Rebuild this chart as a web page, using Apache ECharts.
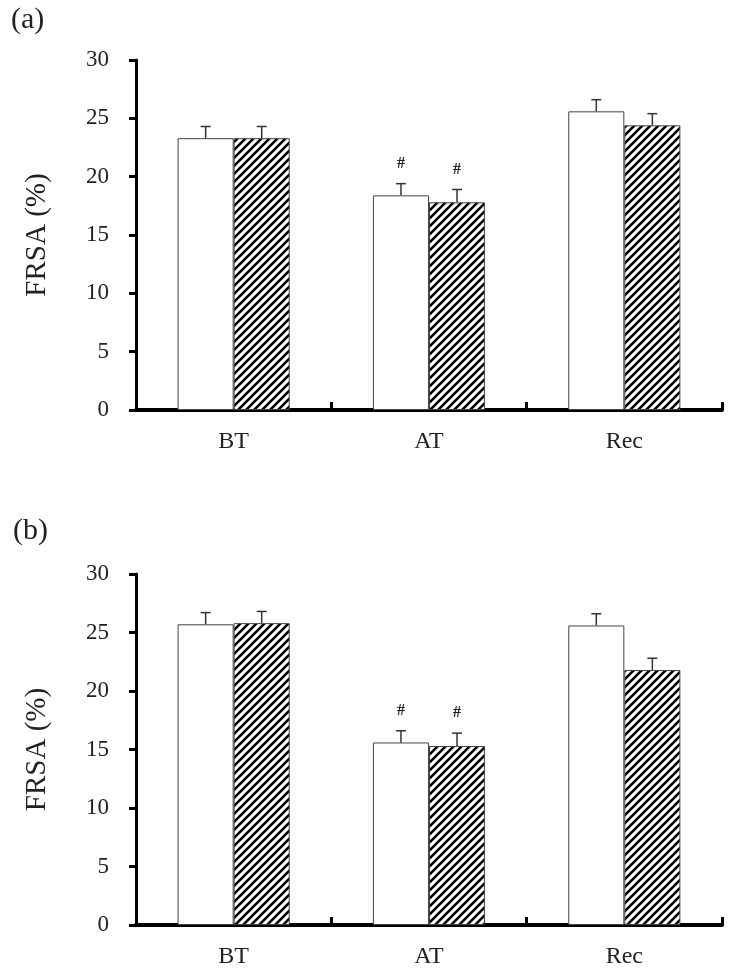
<!DOCTYPE html>
<html>
<head>
<meta charset="utf-8">
<script src="https://cdn.jsdelivr.net/npm/echarts@6/dist/echarts.min.js"></script>
<style>html,body{margin:0;padding:0;background:#fff;}#c{width:734px;height:970px;}</style>
</head>
<body>
<div id="c"></div>
<script>
// ---- data ----
const categories = ['BT', 'AT', 'Rec'];
const yTicks = [0, 5, 10, 15, 20, 25, 30];
// panel (a)
const aOpen = [23.3, 18.4, 25.6];
const aOpenErr = [1.0, 1.0, 1.0];
const aHatch = [23.3, 17.8, 24.4];
const aHatchErr = [1.0, 1.1, 1.0];
const aOpenSig = ['', '#', ''];
const aHatchSig = ['', '#', ''];
// panel (b)
const bOpen = [25.7, 15.6, 25.6];
const bOpenErr = [1.0, 1.0, 1.0];
const bHatch = [25.8, 15.3, 21.8];
const bHatchErr = [1.0, 1.1, 1.0];
const bOpenSig = ['', '#', ''];
const bHatchSig = ['', '#', ''];

const FONT = "'Liberation Serif', 'Times New Roman', serif";
const BAR_FRAC = 0.287;

// hatch pattern
const pc = document.createElement('canvas');
pc.width = 8; pc.height = 8;
const g = pc.getContext('2d');
g.fillStyle = '#fff'; g.fillRect(0, 0, 8, 8);
g.strokeStyle = '#000'; g.lineWidth = 2.6;
g.beginPath();
g.moveTo(-2, 10); g.lineTo(10, -2);
g.moveTo(-2, 2); g.lineTo(2, -2);
g.moveTo(6, 10); g.lineTo(10, 6);
g.stroke();

function errRender(side) {
  return function (params, api) {
    const idx = api.value(0), v = api.value(1), e = api.value(2);
    const base = api.coord([idx, v]);
    const top = api.coord([idx, v + e]);
    const bw = api.size([1, 0])[0] * BAR_FRAC;
    const x = base[0] + side * 0.5 * bw;
    return { type: 'group', children: [
      { type: 'line', shape: { x1: x, y1: base[1], x2: x, y2: top[1] }, style: { stroke: '#333', lineWidth: 1.5 } },
      { type: 'line', shape: { x1: x - 5, y1: top[1], x2: x + 5, y2: top[1] }, style: { stroke: '#333', lineWidth: 1.5 } }
    ] };
  };
}
function sigRender(side) {
  return function (params, api) {
    const idx = api.value(0), v = api.value(1), e = api.value(2);
    const top = api.coord([idx, v + e]);
    const base = api.coord([idx, v]);
    const bw = api.size([1, 0])[0] * BAR_FRAC;
    const x = base[0] + side * 0.5 * bw;
    return { type: 'text', style: { text: '#', x: x, y: top[1] - 12, align: 'center', verticalAlign: 'bottom', font: "bold 16px " + FONT, fill: '#222' } };
  };
}
function errData(vals, errs) { return vals.map((v, i) => [i, v, errs[i]]); }
function sigData(vals, errs, sigs) { return vals.map((v, i) => [i, v, errs[i]]).filter((d, i) => sigs[i] === '#'); }

const grids = [
  { left: 136, top: 60, width: 586, height: 350 },
  { left: 136, top: 574, width: 586, height: 351 }
];
function xAx(gi) {
  return {
    type: 'category', gridIndex: gi, data: categories,
    axisLine: { show: true, lineStyle: { color: '#000', width: 4 } },
    axisTick: { show: true, interval: 0, inside: true, length: 8, lineStyle: { color: '#000', width: 3 } },
    axisLabel: { fontFamily: FONT, fontSize: 24, color: '#222', margin: 20 }
  };
}
function yAx(gi) {
  return {
    type: 'value', gridIndex: gi, min: 0, max: 30, interval: 5,
    name: 'FRSA (%)', nameLocation: 'middle', nameGap: 84, nameRotate: 90,
    nameTextStyle: { fontFamily: FONT, fontSize: 29, color: '#222' },
    splitLine: { show: false },
    axisLine: { show: true, lineStyle: { color: '#000', width: 3 } },
    axisTick: { show: true, length: 7, lineStyle: { color: '#000', width: 3 } },
    axisLabel: { fontFamily: FONT, fontSize: 23, color: '#222', margin: 27 }
  };
}
function barSeries(gi, vals, hatched) {
  return {
    type: 'bar', xAxisIndex: gi, yAxisIndex: gi, data: vals,
    barWidth: (BAR_FRAC * 100) + '%', barGap: '0%',
    itemStyle: { color: hatched ? { image: pc, repeat: 'repeat' } : '#fff', borderColor: '#444', borderWidth: 1 },
    emphasis: { disabled: true }, silent: true
  };
}
function customSeries(gi, data, fn) {
  return { type: 'custom', xAxisIndex: gi, yAxisIndex: gi, data: data, renderItem: fn, z: 5, silent: true };
}

const option = {
  animation: false,
  backgroundColor: '#fff',
  title: [
    { text: '(a)', left: 6, top: 0, textStyle: { fontFamily: FONT, fontSize: 30, fontWeight: 'normal', color: '#222' } },
    { text: '(b)', left: 8, top: 511, textStyle: { fontFamily: FONT, fontSize: 30, fontWeight: 'normal', color: '#222' } }
  ],
  grid: grids,
  xAxis: [xAx(0), xAx(1)],
  yAxis: [yAx(0), yAx(1)],
  series: [
    barSeries(0, aOpen, false),
    barSeries(0, aHatch, true),
    customSeries(0, errData(aOpen, aOpenErr), errRender(-1)),
    customSeries(0, errData(aHatch, aHatchErr), errRender(1)),
    customSeries(0, sigData(aOpen, aOpenErr, aOpenSig), sigRender(-1)),
    customSeries(0, sigData(aHatch, aHatchErr, aHatchSig), sigRender(1)),
    barSeries(1, bOpen, false),
    barSeries(1, bHatch, true),
    customSeries(1, errData(bOpen, bOpenErr), errRender(-1)),
    customSeries(1, errData(bHatch, bHatchErr), errRender(1)),
    customSeries(1, sigData(bOpen, bOpenErr, bOpenSig), sigRender(-1)),
    customSeries(1, sigData(bHatch, bHatchErr, bHatchSig), sigRender(1))
  ]
};
const chart = echarts.init(document.getElementById('c'), null, { renderer: 'canvas' });
chart.setOption(option);
</script>
</body>
</html>
